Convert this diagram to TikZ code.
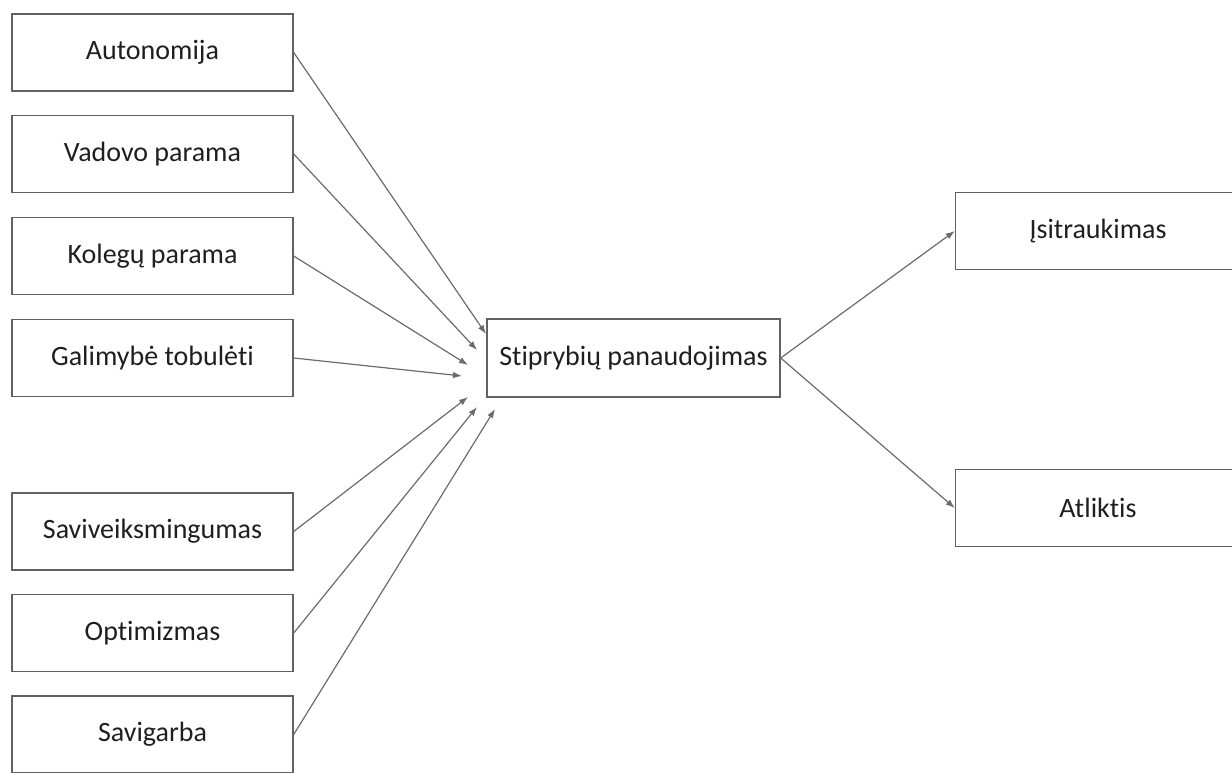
\documentclass[tikz,border=0pt]{standalone}
\usepackage{fontspec}
\setmainfont{Carlito}[Ligatures={NoCommon}]
\usetikzlibrary{arrows.meta}
\begin{document}
\begin{tikzpicture}[x=1pt,y=-1pt,
  box/.style={draw=black!62, line width=1.4pt, rectangle, inner sep=0pt,
    minimum height=77pt, font=\fontsize{28}{33}\selectfont, text=black!88},
  lbox/.style={box, minimum width=281pt},
  conn/.style={draw=black!58, line width=1.2pt, -{Latex[length=9pt,width=6.5pt]}}]
\useasboundingbox (0,0) rectangle (1232,772);
% left boxes
\node[lbox] (a) at (152.5,52.5) {Autonomija};
\node[lbox] (b) at (152.5,154) {Vadovo parama};
\node[lbox] (c) at (152.5,256) {Kolegų parama};
\node[lbox] (d) at (152.5,358) {Galimybė tobulėti};
\node[lbox] (e) at (152.5,531.5) {Saviveiksmingumas};
\node[lbox] (f) at (152.5,633) {Optimizmas};
\node[lbox] (g) at (152.5,734.5) {Savigarba};
% center
\node[box, minimum width=293pt, minimum height=78pt] (s) at (633.5,358) {Stiprybių panaudojimas};
% right
\node[box, minimum width=285pt] (i) at (1098,231) {Įsitraukimas};
\node[box, minimum width=285pt] (t) at (1098,508) {Atliktis};
% free ends near centre box
\coordinate (ea) at (486,334);
\coordinate (eb) at (477,350);
\coordinate (ec) at (468,365);
\coordinate (ed) at (462,376);
\coordinate (ee) at (468,397);
\coordinate (ef) at (477,407);
\coordinate (eg) at (495,409);
\draw[conn] (a.east) -- (ea);
\draw[conn] (b.east) -- (eb);
\draw[conn] (c.east) -- (ec);
\draw[conn] (d.east) -- (ed);
\draw[conn] (e.east) -- (ee);
\draw[conn] (f.east) -- (ef);
\draw[conn] (g.east) -- (eg);
\draw[conn] (s.east) -- (i.west);
\draw[conn] (s.east) -- (t.west);
\end{tikzpicture}
\end{document}
